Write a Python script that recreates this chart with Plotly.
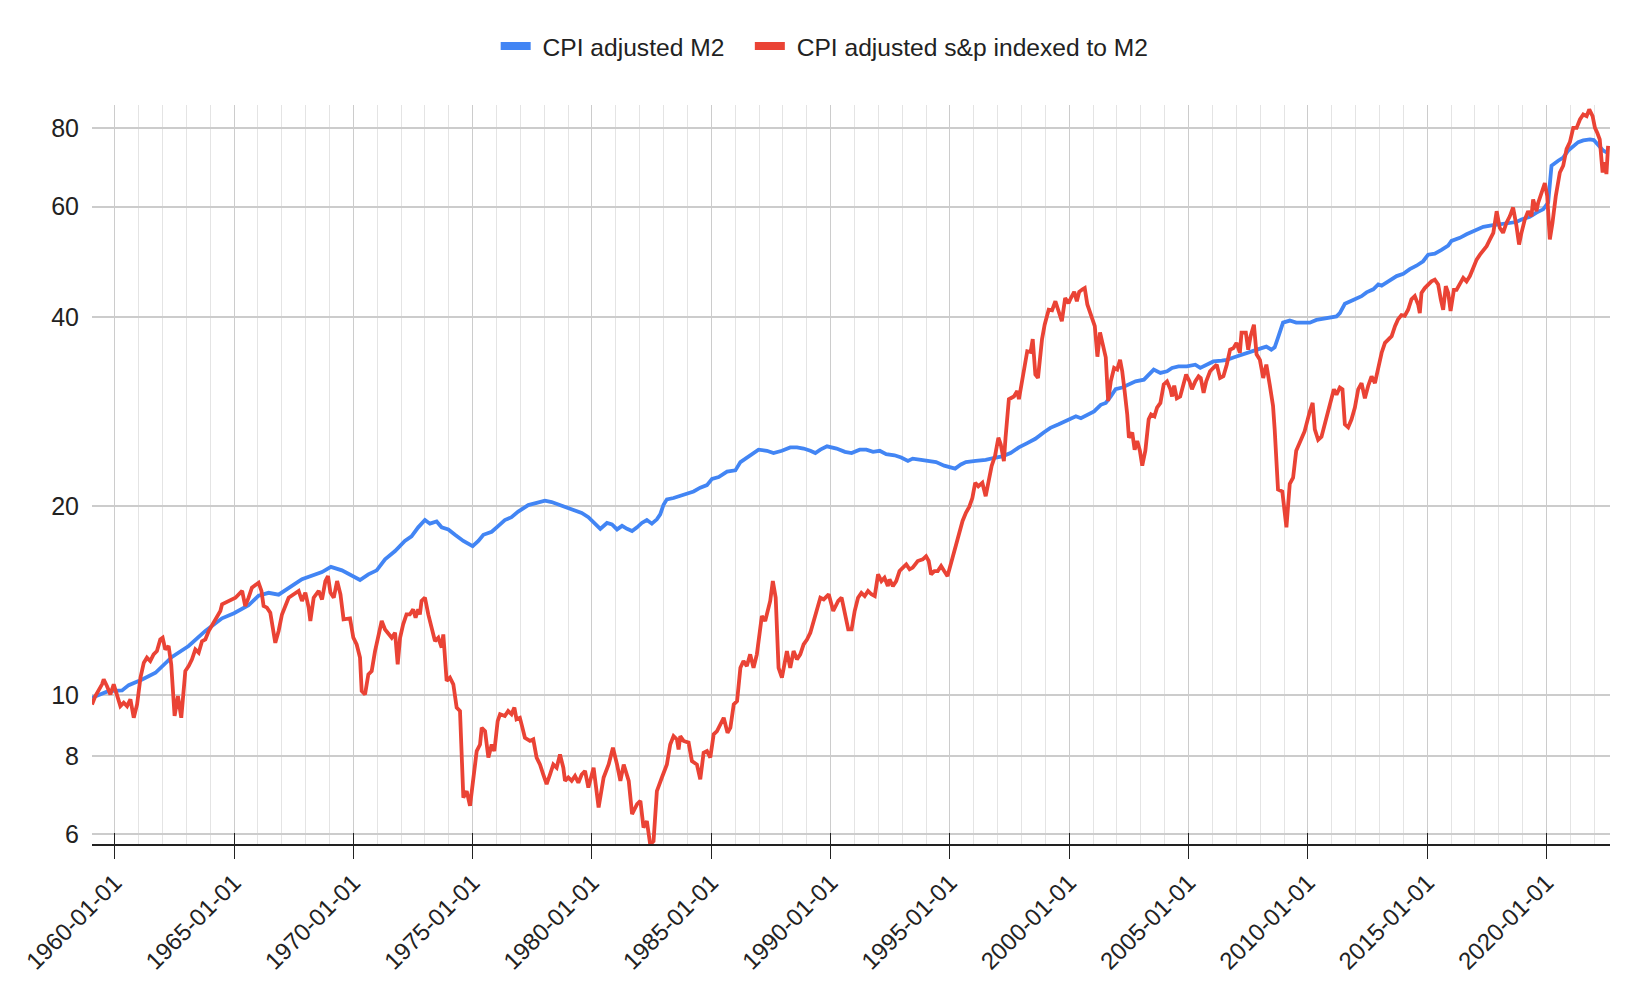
import plotly.graph_objects as go
import pandas as pd
import math

# ---- data (fractional years, values) ----
m2_years = [1959.05, 1959.75, 1960.31, 1960.59, 1961.15, 1961.71, 1962.40, 1963.10, 1963.80, 1964.50,
            1965.00, 1965.61, 1966.03, 1966.45, 1966.87, 1967.29, 1967.85, 1968.69, 1969.06, 1969.52,
            1969.93, 1970.28, 1970.63, 1970.98, 1971.33, 1971.75, 1972.16, 1972.44, 1972.72, 1973.00,
            1973.21, 1973.49, 1973.70, 1973.98, 1974.26, 1974.61, 1975.00, 1975.24, 1975.45, 1975.80,
            1976.08, 1976.35, 1976.63, 1976.91, 1977.33, 1977.75, 1978.03, 1978.31, 1978.73, 1979.15,
            1979.57, 1979.85, 1980.14, 1980.35, 1980.63, 1980.84, 1981.05, 1981.26, 1981.47, 1981.68,
            1981.89, 1982.09, 1982.30, 1982.51, 1982.72, 1982.86, 1983.00, 1983.14, 1983.42, 1983.70,
            1983.98, 1984.26, 1984.54, 1984.82, 1985.03, 1985.31, 1985.66, 1986.01, 1986.22, 1986.49,
            1986.77, 1986.98, 1987.33, 1987.61, 1987.96, 1988.31, 1988.59, 1988.87, 1989.15, 1989.36,
            1989.57, 1989.85, 1990.25, 1990.60, 1990.88, 1991.22, 1991.50, 1991.78, 1992.06, 1992.33,
            1992.68, 1992.96, 1993.24, 1993.44, 1993.79, 1994.14, 1994.42, 1994.76, 1995.04, 1995.22,
            1995.46, 1995.67, 1996.08, 1996.50, 1996.92, 1997.19, 1997.54, 1997.89, 1998.24, 1998.58,
            1998.93, 1999.21, 1999.56, 1999.83, 2000.07, 2000.28, 2000.49, 2000.76, 2001.04, 2001.32,
            2001.53, 2001.74, 2001.94, 2002.22, 2002.50, 2002.78, 2003.13, 2003.33, 2003.54, 2003.82,
            2004.10, 2004.31, 2004.58, 2004.93, 2005.28, 2005.49, 2005.76, 2006.04, 2006.39, 2006.60,
            2006.88, 2007.15, 2007.50, 2007.78, 2008.06, 2008.26, 2008.47, 2008.61, 2008.75, 2008.96,
            2009.24, 2009.51, 2009.79, 2010.08, 2010.36, 2010.64, 2010.92, 2011.20, 2011.34, 2011.55,
            2011.90, 2012.25, 2012.46, 2012.74, 2012.95, 2013.09, 2013.37, 2013.72, 2014.00, 2014.27,
            2014.55, 2014.83, 2015.04, 2015.32, 2015.60, 2015.88, 2016.02, 2016.37, 2016.65, 2017.00,
            2017.35, 2017.70, 2018.04, 2018.39, 2018.74, 2018.95, 2019.30, 2019.58, 2019.86, 2020.07,
            2020.21, 2020.49, 2020.70, 2020.91, 2021.12, 2021.33, 2021.54, 2021.82, 2021.98, 2022.16,
            2022.37, 2022.58]
m2_values = [9.90, 10.15, 10.17, 10.37, 10.59, 10.85, 11.5, 11.97, 12.65, 13.25,
             13.5, 13.9, 14.4, 14.55, 14.45, 14.8, 15.3, 15.7, 16.0, 15.8,
             15.47, 15.25, 15.57, 15.8, 16.45, 16.96, 17.6, 17.9, 18.5, 19.0,
             18.75, 18.9, 18.5, 18.36, 18.0, 17.6, 17.27, 17.6, 18.0, 18.2,
             18.6, 19.0, 19.2, 19.6, 20.07, 20.3, 20.4, 20.3, 20.05, 19.76,
             19.5, 19.2, 18.7, 18.4, 18.8, 18.7, 18.36, 18.6, 18.4, 18.25,
             18.5, 18.8, 19.0, 18.75, 19.05, 19.4, 20.1, 20.5, 20.6, 20.75,
             20.9, 21.1, 21.4, 21.6, 22.1, 22.25, 22.7, 22.8, 23.5, 23.9,
             24.3, 24.6, 24.5, 24.3, 24.5, 24.8, 24.8, 24.7, 24.5, 24.3,
             24.6, 24.9, 24.7, 24.4, 24.3, 24.6, 24.6, 24.4, 24.5, 24.2,
             24.1, 23.9, 23.6, 23.8, 23.7, 23.6, 23.5, 23.2, 23.0, 22.95,
             23.3, 23.5, 23.6, 23.7, 23.9, 24.0, 24.3, 24.8, 25.2, 25.6,
             26.2, 26.65, 27.0, 27.3, 27.5, 27.8, 27.6, 27.9, 28.3, 29.0,
             29.2, 29.9, 30.7, 30.9, 31.3, 31.6, 31.8, 32.4, 33.0, 32.6,
             32.8, 33.2, 33.4, 33.4, 33.6, 33.2, 33.6, 34.0, 34.1, 34.2,
             34.5, 34.8, 35.1, 35.4, 35.7, 35.9, 35.5, 35.8, 37.1, 39.2,
             39.5, 39.2, 39.2, 39.2, 39.6, 39.8, 39.9, 40.1, 40.6, 42.0,
             42.6, 43.2, 43.8, 44.3, 45.1, 44.9, 45.6, 46.5, 46.9, 47.7,
             48.3, 49.1, 50.3, 50.5, 51.2, 52.0, 52.9, 53.5, 54.2, 54.9,
             55.7, 56.0, 56.2, 56.4, 56.7, 57.2, 57.8, 58.7, 59.4, 60.9,
             69.7, 71.0, 71.8, 73.7, 75.0, 76.0, 76.5, 76.8, 76.6, 75.4,
             73.7, 73.0]

sp_years = [1959.05, 1959.19, 1959.47, 1959.54, 1959.68, 1959.82, 1959.96, 1960.10, 1960.24, 1960.38,
            1960.52, 1960.66, 1960.80, 1960.94, 1961.08, 1961.22, 1961.35, 1961.49, 1961.63, 1961.77,
            1961.91, 1962.01, 1962.12, 1962.26, 1962.37, 1962.51, 1962.65, 1962.79, 1962.96, 1963.10,
            1963.24, 1963.38, 1963.52, 1963.66, 1963.80, 1963.94, 1964.22, 1964.43, 1964.50, 1964.78,
            1965.06, 1965.34, 1965.47, 1965.61, 1965.75, 1966.03, 1966.15, 1966.24, 1966.38, 1966.52,
            1966.73, 1966.87, 1967.01, 1967.29, 1967.57, 1967.71, 1967.85, 1967.99, 1968.13, 1968.20,
            1968.34, 1968.55, 1968.69, 1968.83, 1968.94, 1969.04, 1969.18, 1969.32, 1969.46, 1969.59,
            1969.86, 1970.00, 1970.14, 1970.28, 1970.35, 1970.49, 1970.63, 1970.77, 1970.91, 1971.05,
            1971.19, 1971.33, 1971.47, 1971.61, 1971.75, 1971.86, 1971.96, 1972.09, 1972.23, 1972.37,
            1972.51, 1972.61, 1972.72, 1972.79, 1972.86, 1973.00, 1973.14, 1973.28, 1973.42, 1973.56,
            1973.70, 1973.77, 1973.91, 1974.05, 1974.19, 1974.33, 1974.47, 1974.61, 1974.75, 1974.89,
            1975.03, 1975.17, 1975.31, 1975.38, 1975.52, 1975.66, 1975.80, 1975.91, 1976.05, 1976.15,
            1976.35, 1976.49, 1976.63, 1976.75, 1976.84, 1976.98, 1977.05, 1977.19, 1977.40, 1977.54,
            1977.68, 1977.82, 1977.96, 1978.10, 1978.24, 1978.38, 1978.52, 1978.66, 1978.80, 1978.87,
            1979.01, 1979.15, 1979.29, 1979.43, 1979.57, 1979.71, 1979.85, 1980.07, 1980.28, 1980.49,
            1980.70, 1980.88, 1981.05, 1981.19, 1981.33, 1981.54, 1981.68, 1981.89, 1982.03, 1982.16,
            1982.30, 1982.44, 1982.58, 1982.72, 1982.93, 1983.14, 1983.28, 1983.42, 1983.56, 1983.63,
            1983.70, 1983.84, 1984.05, 1984.19, 1984.40, 1984.54, 1984.68, 1984.82, 1984.96, 1985.10,
            1985.24, 1985.38, 1985.52, 1985.68, 1985.80, 1985.94, 1986.08, 1986.22, 1986.35, 1986.49,
            1986.63, 1986.77, 1986.91, 1987.12, 1987.26, 1987.47, 1987.58, 1987.70, 1987.82, 1987.96,
            1988.17, 1988.31, 1988.45, 1988.59, 1988.73, 1988.87, 1989.01, 1989.15, 1989.43, 1989.57,
            1989.71, 1989.92, 1990.11, 1990.32, 1990.46, 1990.60, 1990.74, 1990.88, 1991.01, 1991.15,
            1991.29, 1991.43, 1991.57, 1991.71, 1991.85, 1991.99, 1992.13, 1992.26, 1992.40, 1992.47,
            1992.61, 1992.75, 1992.89, 1993.03, 1993.17, 1993.31, 1993.44, 1993.65, 1993.86, 1994.00,
            1994.11, 1994.21, 1994.35, 1994.49, 1994.63, 1994.76, 1994.90, 1995.11, 1995.32, 1995.53,
            1995.67, 1995.81, 1995.94, 1996.06, 1996.19, 1996.36, 1996.50, 1996.61, 1996.75, 1996.89,
            1997.03, 1997.13, 1997.26, 1997.33, 1997.47, 1997.68, 1997.82, 1997.89, 1997.96, 1998.10,
            1998.24, 1998.38, 1998.47, 1998.58, 1998.69, 1998.86, 1998.97, 1999.14, 1999.28, 1999.42,
            1999.56, 1999.69, 1999.83, 1999.97, 2000.07, 2000.21, 2000.32, 2000.42, 2000.56, 2000.65,
            2000.76, 2000.88, 2000.97, 2001.07, 2001.18, 2001.29, 2001.39, 2001.53, 2001.63, 2001.74,
            2001.88, 2002.01, 2002.13, 2002.22, 2002.32, 2002.43, 2002.50, 2002.64, 2002.74, 2002.85,
            2002.96, 2003.06, 2003.19, 2003.33, 2003.43, 2003.57, 2003.68, 2003.82, 2003.96, 2004.10,
            2004.24, 2004.31, 2004.40, 2004.51, 2004.65, 2004.79, 2004.90, 2005.04, 2005.14, 2005.28,
            2005.42, 2005.51, 2005.63, 2005.74, 2005.90, 2006.04, 2006.18, 2006.32, 2006.46, 2006.60,
            2006.74, 2006.88, 2007.01, 2007.15, 2007.22, 2007.40, 2007.50, 2007.60, 2007.74, 2007.85,
            2007.99, 2008.13, 2008.26, 2008.40, 2008.54, 2008.61, 2008.75, 2008.93, 2009.10, 2009.24,
            2009.38, 2009.51, 2009.72, 2009.86, 2010.08, 2010.20, 2010.29, 2010.43, 2010.57, 2010.71,
            2010.85, 2010.99, 2011.09, 2011.20, 2011.34, 2011.45, 2011.55, 2011.69, 2011.83, 2011.97,
            2012.11, 2012.25, 2012.39, 2012.53, 2012.67, 2012.81, 2012.95, 2013.09, 2013.23, 2013.37,
            2013.51, 2013.65, 2013.78, 2013.92, 2014.06, 2014.20, 2014.34, 2014.48, 2014.62, 2014.69,
            2014.76, 2014.90, 2015.04, 2015.18, 2015.32, 2015.46, 2015.57, 2015.67, 2015.78, 2015.88,
            2015.98, 2016.12, 2016.23, 2016.37, 2016.51, 2016.65, 2016.79, 2016.93, 2017.07, 2017.21,
            2017.35, 2017.49, 2017.63, 2017.77, 2017.91, 2018.04, 2018.18, 2018.32, 2018.46, 2018.60,
            2018.74, 2018.85, 2018.95, 2019.09, 2019.23, 2019.37, 2019.44, 2019.58, 2019.65, 2019.79,
            2019.93, 2020.03, 2020.14, 2020.25, 2020.39, 2020.56, 2020.70, 2020.84, 2020.98, 2021.12,
            2021.26, 2021.40, 2021.54, 2021.68, 2021.79, 2021.93, 2022.03, 2022.13, 2022.23, 2022.35,
            2022.44, 2022.51, 2022.58]
sp_values = [9.66, 9.96, 10.40, 10.59, 10.33, 10.02, 10.40, 10.02, 9.60, 9.72,
             9.60, 9.84, 9.20, 9.66, 10.66, 11.26, 11.47, 11.33, 11.61, 11.75,
             12.26, 12.34, 11.82, 11.97, 11.19, 9.26, 9.96, 9.20, 10.92, 11.12,
             11.40, 11.82, 11.68, 12.18, 12.26, 12.65, 13.20, 13.61, 13.95, 14.12,
             14.29, 14.65, 13.86, 14.29, 14.83, 15.10, 14.65, 13.86, 13.78, 13.53,
             12.11, 12.65, 13.44, 14.29, 14.56, 14.65, 14.12, 14.56, 13.78, 13.12,
             14.29, 14.65, 14.20, 15.19, 15.47, 14.56, 14.29, 15.19, 14.47, 13.20,
             13.25, 12.34, 12.04, 11.47, 10.15, 10.02, 10.79, 10.92, 11.75, 12.34,
             13.12, 12.72, 12.49, 12.34, 12.57, 11.19, 12.34, 12.96, 13.44, 13.44,
             13.69, 13.28, 13.69, 13.44, 14.12, 14.29, 13.44, 12.80, 12.19, 12.34,
             11.90, 12.49, 10.53, 10.66, 10.40, 9.55, 9.43, 6.86, 7.03, 6.66,
             7.47, 8.14, 8.34, 8.87, 8.76, 7.95, 8.34, 8.14, 9.09, 9.32,
             9.26, 9.43, 9.32, 9.55, 9.15, 9.20, 8.98, 8.55, 8.45, 8.50,
             7.95, 7.75, 7.47, 7.21, 7.47, 7.75, 7.66, 8.04, 7.66, 7.30,
             7.39, 7.30, 7.43, 7.25, 7.47, 7.57, 7.12, 7.66, 6.62, 7.39,
             7.75, 8.24, 7.75, 7.30, 7.75, 7.30, 6.46, 6.70, 6.78, 6.15,
             6.30, 5.78, 5.85, 7.03, 7.39, 7.75, 8.34, 8.60, 8.50, 8.19,
             8.60, 8.45, 8.40, 7.85, 7.75, 7.34, 8.09, 8.14, 7.95, 8.66,
             8.76, 8.98, 9.20, 8.71, 8.87, 9.66, 9.78, 11.05, 11.33, 11.12,
             11.61, 11.05, 11.61, 13.36, 13.12, 14.12, 15.19, 14.29, 11.05, 10.66,
             11.75, 11.05, 11.75, 11.40, 11.61, 12.04, 12.26, 12.57, 13.61, 14.29,
             14.20, 14.47, 13.61, 14.12, 14.29, 13.44, 12.72, 12.72, 13.61, 14.29,
             14.55, 14.38, 14.65, 14.47, 14.38, 15.57, 15.19, 15.38, 14.91, 15.28,
             14.91, 15.19, 15.76, 15.96, 16.15, 15.86, 15.96, 16.35, 16.45, 16.64,
             16.35, 15.57, 15.76, 15.76, 16.05, 15.76, 15.47, 16.55, 17.70, 18.94,
             19.52, 19.94, 20.60, 21.78, 21.50, 21.78, 20.74, 21.78, 23.17, 24.03,
             25.70, 25.08, 23.59, 25.70, 29.60, 29.90, 30.50, 29.60, 30.70, 33.20,
             35.30, 35.20, 36.90, 32.40, 32.00, 36.90, 38.90, 41.10, 41.00, 42.40,
             40.80, 39.40, 42.90, 42.10, 42.9, 43.9, 42.4, 43.9, 44.3, 44.5,
             41.9, 40.6, 39.4, 38.7, 34.6, 37.8, 36.4, 34.5, 29.4, 31.6,
             33.2, 33.0, 34.2, 32.8, 30.5, 28.0, 25.7, 26.2, 24.6, 25.4,
             24.5, 23.2, 24.5, 27.5, 28.0, 27.8, 28.7, 29.2, 31.25, 31.6,
             30.7, 29.9, 31.1, 29.7, 29.9, 31.25, 32.4, 31.6, 30.7, 31.6,
             32.2, 32.0, 30.3, 31.6, 32.8, 33.2, 33.6, 32.0, 32.2, 33.6,
             35.5, 35.7, 36.4, 35.1, 37.8, 37.8, 35.5, 37.3, 38.9, 34.9,
             34.2, 32.0, 33.6, 31.25, 28.9, 26.5, 21.25, 21.1, 18.5, 21.7,
             22.2, 24.5, 25.7, 26.3, 28.3, 29.2, 26.5, 25.5, 25.8, 27.0,
             28.1, 29.7, 30.7, 30.1, 30.9, 30.7, 27.0, 26.7, 27.5, 28.7,
             30.7, 31.4, 29.7, 31.1, 32.2, 31.4, 33.2, 35.1, 36.4, 36.9,
             37.3, 38.7, 39.7, 40.3, 40.2, 41.1, 42.7, 43.2, 41.9, 40.6,
             43.7, 44.5, 45.1, 45.6, 45.9, 45.1, 42.7, 41.1, 44.8, 43.7,
             40.9, 44.2, 44.2, 45.1, 46.2, 45.6, 46.5, 47.9, 49.4, 50.3,
             51.2, 51.9, 53.2, 54.5, 59.0, 55.5, 54.5, 56.5, 57.9, 59.8,
             55.9, 52.2, 54.5, 57.2, 59.0, 57.9, 61.6, 59.0, 60.8, 63.1,
             65.4, 62.4, 53.2, 56.5, 62.4, 68.0, 69.7, 74.1, 76.0, 80.1,
             80.1, 82.6, 84.1, 83.6, 85.7, 83.6, 80.1, 78.6, 76.8, 68.0,
             70.6, 67.6, 75.0]

y_tick_values = [6, 8, 10, 20, 40, 60, 80]
y_tick_labels = ["6", "8", "10", "20", "40", "60", "80"]
x_range_years = [1959.05, 2022.66]
y_range = [5.79, 87.1]

series_names = ["CPI adjusted M2", "CPI adjusted s&p indexed to M2"]
series_colors = ["#4285F4", "#EA4335"]


def to_dates(years):
    out = []
    for y in years:
        base = int(math.floor(y))
        out.append(pd.Timestamp(year=base, month=1, day=1) + pd.Timedelta(days=(y - base) * 365.25))
    return out


FONT = "Liberation Sans, Arial, Helvetica, sans-serif"
NB = "\u00a0"

fig = go.Figure()
fig.add_trace(go.Scatter(x=to_dates(m2_years), y=m2_values, mode="lines",
                         line=dict(color=series_colors[0], width=3.8),
                         name=series_names[0], showlegend=False))
fig.add_trace(go.Scatter(x=to_dates(sp_years), y=sp_values, mode="lines",
                         line=dict(color=series_colors[1], width=3.8),
                         name=series_names[1], showlegend=False))
# legend swatches
legend_labels = [NB + series_names[0] + NB * 3, NB + series_names[1]]
for nm, col in zip(legend_labels, series_colors):
    fig.add_trace(go.Scatter(x=[None], y=[None], mode="lines",
                             line=dict(color=col, width=8), name=nm))
# helper axis for the inner half of the crossing ticks
fig.add_trace(go.Scatter(x=[], y=[], xaxis="x2", showlegend=False, hoverinfo="skip"))

xr = to_dates(x_range_years)

W, H = 1622, 990
fig.update_layout(
    width=W, height=H,
    margin=dict(l=84, r=20, t=97, b=154),
    paper_bgcolor="white", plot_bgcolor="white",
    font=dict(family=FONT, size=24, color="#222222"),
    showlegend=True,
    legend=dict(orientation="h", xref="container", yref="container",
                x=0.5035, xanchor="center", y=1 - 38 / H, yanchor="middle",
                font=dict(size=24.6, color="#222222"), itemwidth=30,
                bgcolor="rgba(0,0,0,0)"),
    xaxis=dict(type="date", range=xr, dtick="M60", tick0="1960-01-01",
               tickformat="%Y-%m-%d", tickangle=-45,
               showgrid=True, gridcolor="#cccccc", gridwidth=1.3,
               minor=dict(dtick="M12", tick0="1960-01-01", showgrid=True,
                          gridcolor="#e4e4e4", gridwidth=1, ticks=""),
               showline=True, linecolor="#222222", linewidth=2,
               ticks="outside", ticklen=13, tickwidth=1.3, tickcolor="#222222",
               tickfont=dict(size=24, color="#222222"), zeroline=False),
    xaxis2=dict(type="date", overlaying="x", matches="x", anchor="y", side="bottom",
                range=xr, dtick="M60", tick0="1960-01-01",
                ticks="inside", ticklen=11, tickwidth=1.3, tickcolor="#222222",
                showticklabels=False, showgrid=False, showline=False, zeroline=False),
    yaxis=dict(type="log", range=[math.log10(y_range[0]), math.log10(y_range[1])],
               tickvals=y_tick_values, ticktext=y_tick_labels,
               showgrid=True, gridcolor="#cccccc", gridwidth=1.6,
               ticks="", ticklabelstandoff=12, zeroline=False, showline=False,
               tickfont=dict(size=25, color="#222222")),
)

fig.write_html("out.html")
